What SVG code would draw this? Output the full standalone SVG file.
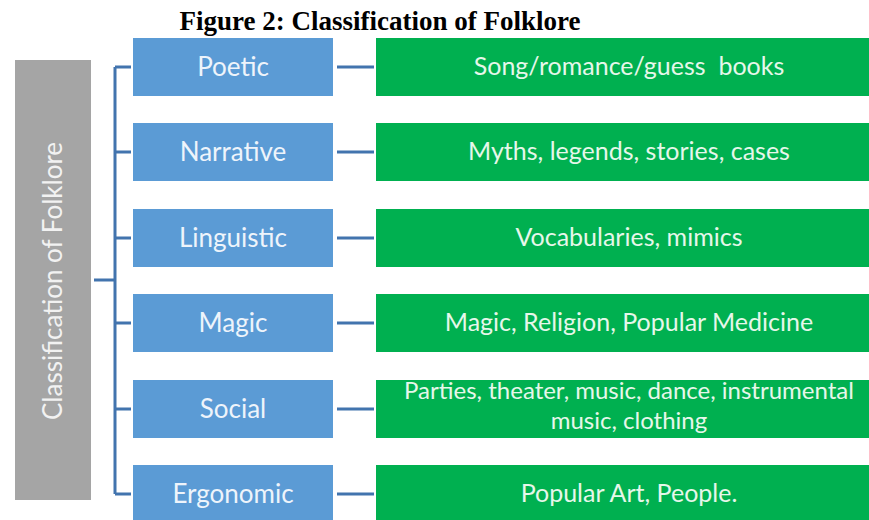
<svg xmlns="http://www.w3.org/2000/svg" width="869" height="520" viewBox="0 0 869 520">
<style>
.title{font-family:"Liberation Serif","Times New Roman",serif;font-weight:bold;font-size:27px;fill:#000}
.cat rect{fill:#5b9bd5}
.leaf rect{fill:#00b050}
.root rect{fill:#a5a5a5}
.lbl{font-family:Lato,"Liberation Sans",sans-serif;font-size:26px;fill:#eef4fb;text-anchor:middle}
.glbl{font-family:Lato,"Liberation Sans",sans-serif;font-size:25px;fill:#e6f7ea;text-anchor:middle}
.conn{stroke:#4274ae;stroke-width:3;fill:none}
</style>
<rect width="869" height="520" fill="#fff"/>
<text class="title" x="380" y="30" text-anchor="middle">Figure 2: Classification of Folklore</text>
<g id="root" class="root">
<rect x="15" y="60" width="76" height="440"/>
<text class="lbl" transform="translate(62,281) rotate(-90)" x="0" y="0" style="font-size:26px;fill:#f2f2f2">Classification of Folklore</text>
</g>
<g id="connectors" class="conn">
<path d="M94 280H115M115 67V494M115 67H131M115 152H131M115 238H131M115 323H131M115 409H131M115 494H131"/>
<path d="M337 67H374M337 152H374M337 238H374M337 323H374M337 409H374M337 494H374"/>
</g>
<g id="poetic" class="cat"><rect x="133" y="38" width="200" height="58"/><text class="lbl" x="233" y="76">Poetic</text></g>
<g id="narrative" class="cat"><rect x="133" y="123" width="200" height="58"/><text class="lbl" x="233" y="161">Narrative</text></g>
<g id="linguistic" class="cat"><rect x="133" y="209" width="200" height="58"/><text class="lbl" x="233" y="247">Linguistic</text></g>
<g id="magic" class="cat"><rect x="133" y="294" width="200" height="58"/><text class="lbl" x="233" y="332">Magic</text></g>
<g id="social" class="cat"><rect x="133" y="380" width="200" height="58"/><text class="lbl" x="233" y="418">Social</text></g>
<g id="ergonomic" class="cat"><rect x="133" y="465" width="200" height="58"/><text class="lbl" x="233" y="503">Ergonomic</text></g>
<g id="leaf-poetic" class="leaf"><rect x="376" y="38" width="506" height="58"/><text class="glbl" x="629" y="75" xml:space="preserve">Song/romance/guess  books</text></g>
<g id="leaf-narrative" class="leaf"><rect x="376" y="123" width="506" height="58"/><text class="glbl" x="629" y="160">Myths, legends, stories, cases</text></g>
<g id="leaf-linguistic" class="leaf"><rect x="376" y="209" width="506" height="58"/><text class="glbl" x="629" y="246">Vocabularies, mimics</text></g>
<g id="leaf-magic" class="leaf"><rect x="376" y="294" width="506" height="58"/><text class="glbl" x="629" y="331">Magic, Religion, Popular Medicine</text></g>
<g id="leaf-social" class="leaf"><rect x="376" y="380" width="506" height="58"/><text class="glbl" x="629" y="399" style="font-size:24px">Parties, theater, music, dance, instrumental</text><text class="glbl" x="629" y="429" style="font-size:24px">music, clothing</text></g>
<g id="leaf-ergonomic" class="leaf"><rect x="376" y="465" width="506" height="58"/><text class="glbl" x="629" y="502">Popular Art, People.</text></g>
</svg>
